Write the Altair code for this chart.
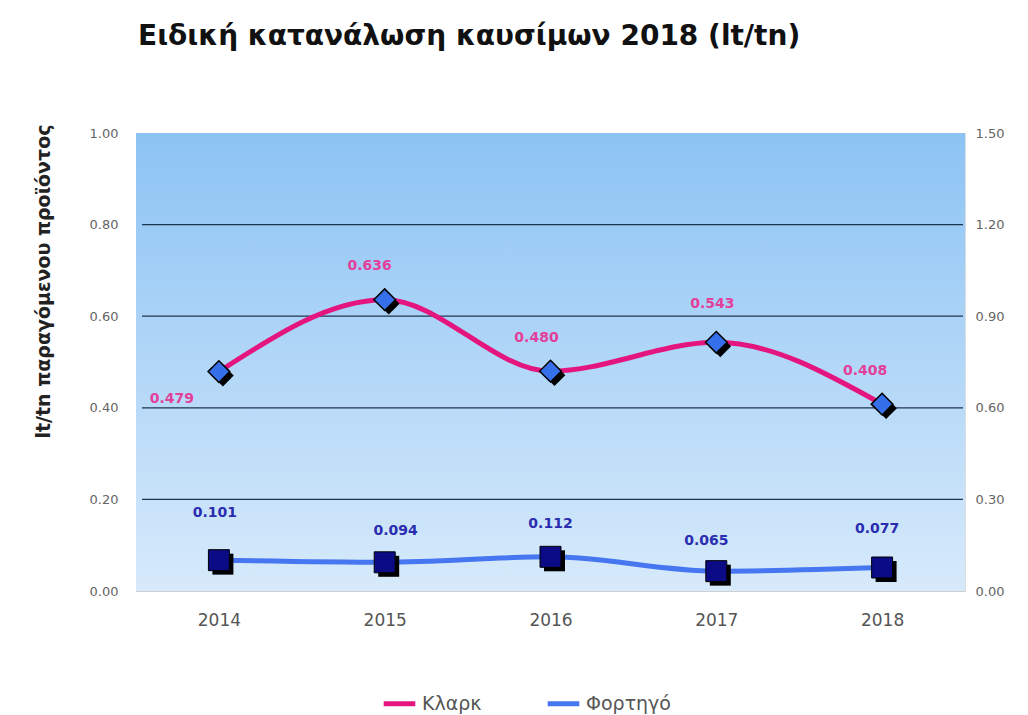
import altair as alt
import pandas as pd

years = ["2014", "2015", "2016", "2017", "2018"]
klark = [0.479, 0.636, 0.480, 0.543, 0.408]
fortigo = [0.101, 0.094, 0.112, 0.065, 0.077]
left_ticks = [0.0, 0.2, 0.4, 0.6, 0.8, 1.0]
right_ticks = [0.0, 0.3, 0.6, 0.9, 1.2, 1.5]
grid_vals = [0.2, 0.4, 0.6, 0.8]
series_names = ["Κλαρκ", "Φορτηγό"]

W, H = 829, 458
PINK = "#E5157F"
BLUE = "#4677F0"
FONT = "DejaVu Sans"

df_k = pd.DataFrame({"year": years, "value": klark, "series": series_names[0]})
df_f = pd.DataFrame({"year": years, "value": fortigo, "series": series_names[1]})
df_g = pd.DataFrame({"value": grid_vals})

xenc = alt.X("year:O", scale=alt.Scale(type="point", padding=0.5),
             axis=alt.Axis(labelAngle=0, title=None, labelFontSize=17, labelColor="#555",
                           labelPadding=21, ticks=False, domainColor="#cfcfcf",
                           labelFont=FONT))
color = alt.Color("series:N", scale=alt.Scale(domain=series_names, range=[PINK, BLUE]),
                  legend=alt.Legend(title=None, orient="none", direction="horizontal",
                                    legendX=245, legendY=552,
                                    symbolType="stroke",
                                    symbolStrokeWidth=5, symbolSize=1000, labelFontSize=19,
                                    labelColor="#555", labelFont=FONT, columnPadding=55,
                                    labelOffset=4))

yl_scale = alt.Scale(domain=[0, 1])
yr_scale = alt.Scale(domain=[0, 1.5])

yl_axis = alt.Axis(values=left_ticks, format=".2f", grid=False, ticks=False,
                   domainColor="#cfcfcf", labelPadding=18, labelFontSize=13,
                   labelColor="#666", labelFont=FONT,
                   title="lt/tn παραγόμενου προϊόντος", titleFontSize=19,
                   titleFont=FONT, titleFontWeight="bold", titleColor="#222",
                   titlePadding=36, titleAnchor="end", titleY=-9)
yl = alt.Y("value:Q", scale=yl_scale, axis=yl_axis)
yr = alt.Y("value:Q", scale=yr_scale,
           axis=alt.Axis(orient="right", values=right_ticks, format=".2f", grid=False,
                         ticks=False, domain=False, labelPadding=10, labelFontSize=13,
                         labelColor="#666", labelFont=FONT, title=None))

bg = alt.Chart(pd.DataFrame({"a": [0]})).mark_rect(
    color=alt.LinearGradient(gradient="linear",
                             stops=[alt.GradientStop(color="#8CC3F4", offset=0),
                                    alt.GradientStop(color="#D7EAFB", offset=1)],
                             x1=0, x2=0, y1=0, y2=1)
).encode(x=alt.value(0), x2=alt.value(W), y=alt.value(0), y2=alt.value(H))

grid = alt.Chart(df_g).mark_rule(color="#1E3550", strokeWidth=1.3).encode(
    y=yl, x=alt.value(6), x2=alt.value(W - 2))

k_line = alt.Chart(df_k).mark_line(strokeWidth=5, interpolate="monotone").encode(
    x=xenc, y=yl, color=color)
k_shadow = alt.Chart(df_k).mark_point(shape="diamond", size=470, filled=True, color="#000",
                                      opacity=1, xOffset=4, yOffset=4).encode(x=xenc, y=yl)
k_pts = alt.Chart(df_k).mark_point(shape="diamond", size=470, filled=True, fill="#3570EA",
                                   stroke="#000", strokeWidth=1.5, opacity=1).encode(x=xenc, y=yl)
k_offsets = [(-47, 27), (-15, -34), (-14, -33), (-4, -38), (-17, -33)]
k_labels = [
    alt.Chart(df_k).transform_filter(alt.datum.year == years[i]).mark_text(
        dx=dx, dy=dy, font=FONT, fontSize=14, fontWeight="bold", color="#E2409A"
    ).encode(x=xenc, y=yl, text=alt.Text("value:Q", format=".3f"))
    for i, (dx, dy) in enumerate(k_offsets)
]

f_line = alt.Chart(df_f).mark_line(strokeWidth=5, interpolate="monotone").encode(
    x=xenc, y=yr, color=color)
f_shadow = alt.Chart(df_f).mark_point(shape="square", size=440, filled=True, color="#000",
                                      opacity=1, xOffset=4, yOffset=4).encode(x=xenc, y=yr)
f_pts = alt.Chart(df_f).mark_point(shape="square", size=440, filled=True, fill="#0B0B85",
                                   stroke="#000", strokeWidth=1, opacity=1).encode(x=xenc, y=yr)
f_offsets = [(-4, -47), (11, -31), (0, -33), (-10, -30), (-5, -38)]
f_labels = [
    alt.Chart(df_f).transform_filter(alt.datum.year == years[i]).mark_text(
        dx=dx, dy=dy, font=FONT, fontSize=14, fontWeight="bold", color="#2A2DB0"
    ).encode(x=xenc, y=yr, text=alt.Text("value:Q", format=".3f"))
    for i, (dx, dy) in enumerate(f_offsets)
]

left = alt.layer(bg, grid, k_line, k_shadow, k_pts, *k_labels)
right = alt.layer(f_line, f_shadow, f_pts, *f_labels)

chart = alt.layer(left, right).resolve_scale(y="independent").properties(
    width=W, height=H,
    title=alt.TitleParams("Ειδική κατανάλωση καυσίμων 2018 (lt/tn)", anchor="start",
                          fontSize=28, font=FONT, fontWeight="bold", color="#111",
                          offset=73, dx=104),
    padding={"left": 26, "top": 15, "right": 5, "bottom": 5},
).configure_view(stroke=None).configure(background="white")

chart.save("out.html", embed_options={"renderer": "svg", "actions": False})
